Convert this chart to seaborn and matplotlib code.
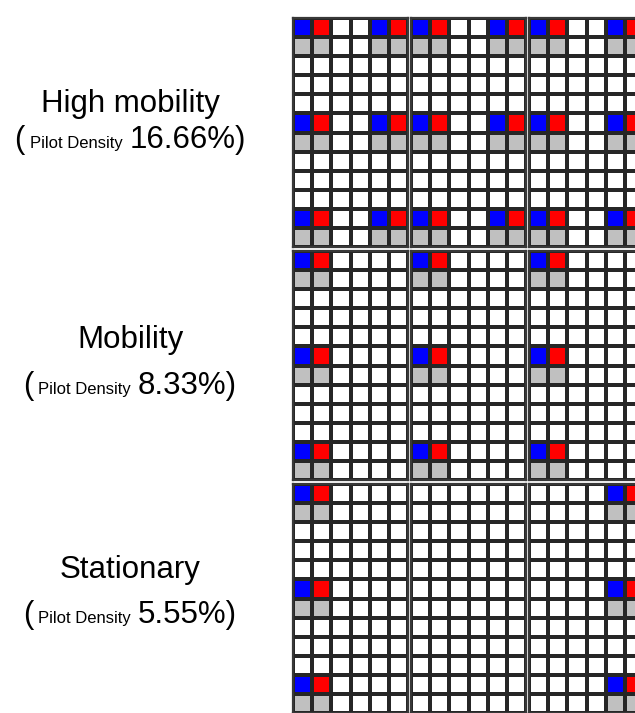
import numpy as np
import pandas as pd
import matplotlib
matplotlib.use("Agg")
import matplotlib.pyplot as plt
import seaborn as sns
from matplotlib.colors import ListedColormap

# ---------------- data ----------------
PANEL_LABELS = ["High mobility", "Mobility", "Stationary"]
PILOT_DENSITY = ["16.66%", "8.33%", "5.55%"]

# cell codes: W = empty, G = grey (pilot shadow), B = blue pilot, R = red pilot
HIGH_MOBILITY_BLOCK = [
    "BRWWBR", "GGWWGG", "WWWWWW", "WWWWWW", "WWWWWW",
    "BRWWBR", "GGWWGG", "WWWWWW", "WWWWWW", "WWWWWW",
    "BRWWBR", "GGWWGG",
]
MOBILITY_BLOCK = [
    "BRWWWW", "GGWWWW", "WWWWWW", "WWWWWW", "WWWWWW",
    "BRWWWW", "GGWWWW", "WWWWWW", "WWWWWW", "WWWWWW",
    "BRWWWW", "GGWWWW",
]
EMPTY_BLOCK = ["WWWWWW"] * 12
SHIFTED_BLOCK = [
    "WWWWBR", "WWWWGG", "WWWWWW", "WWWWWW", "WWWWWW",
    "WWWWBR", "WWWWGG", "WWWWWW", "WWWWWW", "WWWWWW",
    "WWWWBR", "WWWWGG",
]
PANEL_BLOCKS = [
    [HIGH_MOBILITY_BLOCK, HIGH_MOBILITY_BLOCK, HIGH_MOBILITY_BLOCK],
    [MOBILITY_BLOCK, MOBILITY_BLOCK, MOBILITY_BLOCK],
    [MOBILITY_BLOCK, EMPTY_BLOCK, SHIFTED_BLOCK],
]
CELL_CODES = {"W": 0, "G": 1, "B": 2, "R": 3}
CELL_COLORS = ["#FFFFFF", "#C0C0C0", "#0000FF", "#FF0000"]

# ---------------- layout ----------------
W, H = 635, 713
sns.set_theme(style="white")
plt.rcParams["font.family"] = ["Liberation Sans", "DejaVu Sans"]

fig = plt.figure(figsize=(W / 100, H / 100), dpi=100)
fig.patch.set_facecolor("white")


def px_axes(x, y, w, h):
    return fig.add_axes([x / W, 1 - (y + h) / H, w / W, h / H])


panel_tops = [18, 251, 484]
block_lefts = [293, 411, 529]
block_w, block_h = 115, 229
cmap = ListedColormap(CELL_COLORS)

for i, blocks in enumerate(PANEL_BLOCKS):
    for j, block in enumerate(blocks):
        grid = pd.DataFrame([[CELL_CODES[c] for c in row] for row in block])
        ax = px_axes(block_lefts[j], panel_tops[i], block_w, block_h)
        sns.heatmap(grid, cmap=cmap, vmin=-0.5, vmax=3.5, cbar=False,
                    linewidths=1.45, linecolor="#262626",
                    xticklabels=False, yticklabels=False, ax=ax)
        for s in ax.spines.values():
            s.set_visible(True)
            s.set_color("#383838")
            s.set_linewidth(1.6)

# ---------------- labels ----------------
title_y = [104, 340, 570]
sub_y = [140, 386, 615]
center_x = 130
big, small = 22.5, 12

renderer = fig.canvas.get_renderer()
for i, label in enumerate(PANEL_LABELS):
    fig.text(center_x / W, 1 - title_y[i] / H, label, ha="center", va="center",
             fontsize=big, color="black")
    parts = [("(", big, 5), ("Pilot Density", small, 7), (PILOT_DENSITY[i] + ")", big, 0)]
    texts = []
    for s, fs, gap in parts:
        t = fig.text(0, 1 - (sub_y[i] + 8) / H, s, ha="left", va="baseline",
                     fontsize=fs, color="black")
        texts.append((t, gap))
    widths = [t.get_window_extent(renderer).width for t, _ in texts]
    total = sum(widths) + sum(g for _, g in texts[:-1])
    x = center_x - total / 2
    for (t, gap), w_ in zip(texts, widths):
        t.set_x(x / W)
        x += w_ + gap

fig.savefig("out.png", dpi=100, facecolor="white")
